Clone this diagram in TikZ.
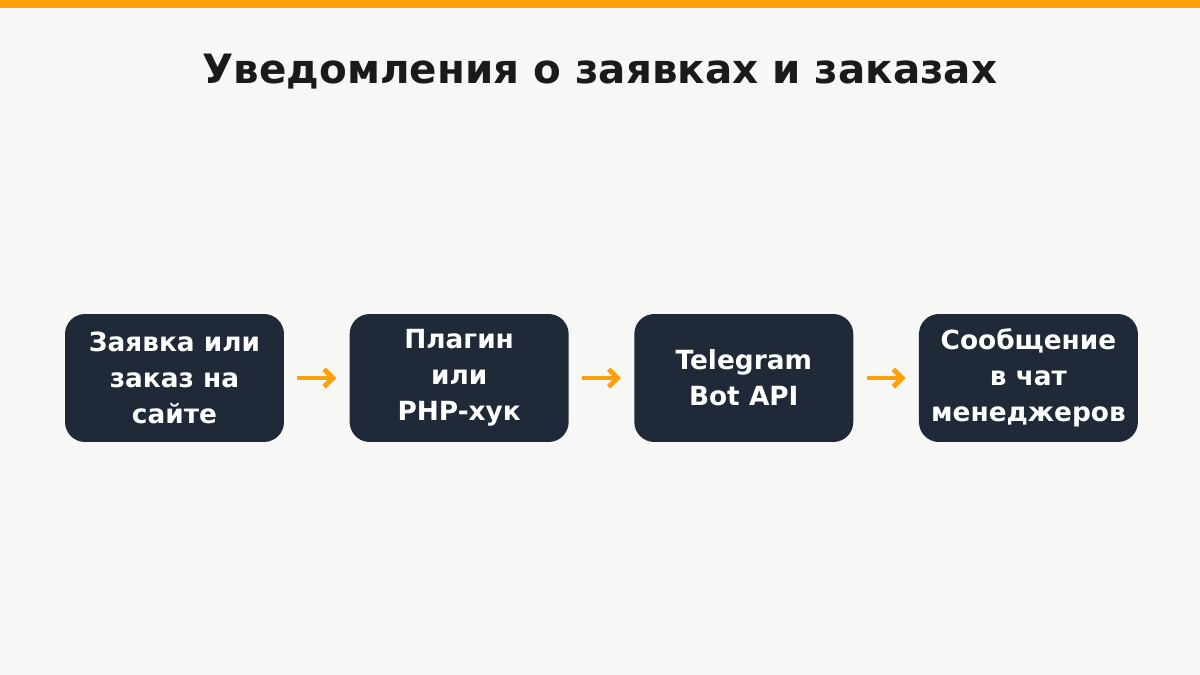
\documentclass[tikz,border=0pt]{standalone}
\usepackage{fontspec}
\setmainfont{DejaVu Sans}
\usetikzlibrary{positioning, arrows.meta}
\definecolor{bgcol}{HTML}{F7F7F5}
\definecolor{boxcol}{HTML}{1F2937}
\definecolor{accent}{HTML}{FF9F0A}
\definecolor{titlecol}{HTML}{1A1A1A}
\begin{document}
\begin{tikzpicture}[
  x=0.02cm, y=-0.02cm,
  node distance=1.3cm,
  stage/.style={fill=boxcol, rounded corners=0.4cm, minimum width=4.38cm, minimum height=2.56cm,
    text=white, font=\fontsize{15}{20.5}\selectfont\bfseries, align=center, inner sep=0pt},
  flow/.style={-{Straight Barb[length=5pt, width=10pt]}, line width=2.8pt, accent, shorten >=0.26cm, shorten <=0.26cm}
]
% background and top bar
\fill[bgcol] (0,0) rectangle (1200,675);
\fill[accent] (0,0) rectangle (1200,8);
\useasboundingbox (0,0) rectangle (1200,675);

\node[font=\fontsize{23}{28}\selectfont\bfseries, text=titlecol] (title) at (600,72) {Уведомления о заявках и заказах};

% stages
\node[stage] (site) at (174.5,378) {Заявка или\\заказ на\\сайте};
\node[stage, right=of site] (hook) {Плагин\\или\\PHP-хук};
\node[stage, right=of hook] (api) {Telegram\\Bot API};
\node[stage, right=of api] (chat) {Сообщение\\в чат\\менеджеров};

% arrows
\draw[flow] (site) -- (hook);
\draw[flow] (hook) -- (api);
\draw[flow] (api) -- (chat);
\end{tikzpicture}
\end{document}
